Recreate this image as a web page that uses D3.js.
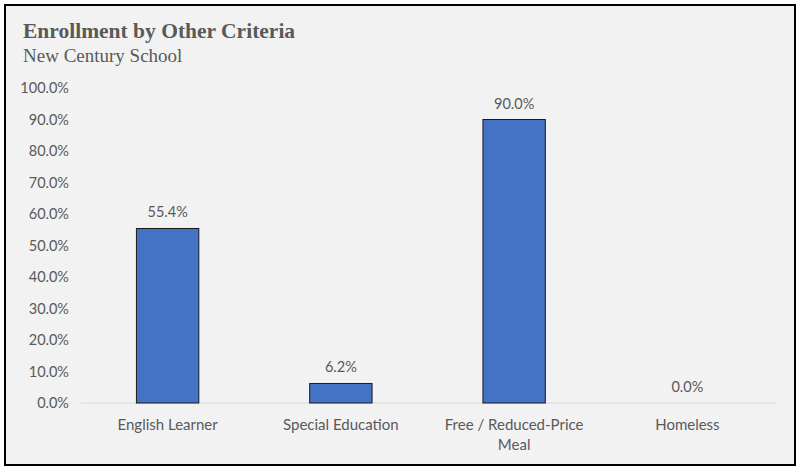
<!DOCTYPE html>
<html>
<head>
<meta charset="utf-8">
<script src="https://cdn.jsdelivr.net/npm/d3@7"></script>
<style>
  html, body { margin: 0; padding: 0; background: #fff; }
  svg { display: block; }
</style>
</head>
<body>
<svg id="chart" width="800" height="468"></svg>
<script>
const categories = ["English Learner", "Special Education", "Free / Reduced-Price Meal", "Homeless"];
const categoryLines = [["English Learner"], ["Special Education"], ["Free / Reduced-Price", "Meal"], ["Homeless"]];
const values = [55.4, 6.2, 90.0, 0.0];
const yTicks = [0, 10, 20, 30, 40, 50, 60, 70, 80, 90, 100];

const svg = d3.select("#chart");

// frame
svg.append("rect").attr("x", 5).attr("y", 5).attr("width", 790).attr("height", 460)
  .attr("fill", "#f2f2f2").attr("stroke", "#000").attr("stroke-width", 2);

// titles
svg.append("text").attr("x", 23).attr("y", 38)
  .attr("font-family", "Liberation Serif, serif").attr("font-weight", "bold")
  .attr("font-size", 21.5).attr("fill", "#595959").text("Enrollment by Other Criteria");
svg.append("text").attr("x", 23).attr("y", 62)
  .attr("font-family", "Liberation Serif, serif")
  .attr("font-size", 19).attr("fill", "#595959").text("New Century School");

const plot = { left: 81, right: 774, top: 88, bottom: 403, axisEnd: 777 };
const x = d3.scaleBand().domain(categories).range([plot.left, plot.right]).paddingInner(0.64).paddingOuter(0.32);
const y = d3.scaleLinear().domain([0, 100]).range([plot.bottom, plot.top]);

const font = "Lato, 'Open Sans', sans-serif";

// y axis labels
const yAxis = d3.axisLeft(y).tickValues(yTicks).tickSize(0).tickPadding(0)
  .tickFormat(d => d.toFixed(1) + "%");
const ya = svg.append("g").attr("transform", `translate(69,0)`).call(yAxis);
ya.select(".domain").remove();
ya.selectAll("text").attr("font-family", font).attr("font-size", 14.5).attr("fill", "#595959");

// baseline
svg.append("line").attr("x1", plot.left).attr("x2", plot.axisEnd).attr("y1", y(0)).attr("y2", y(0))
  .attr("stroke", "#d9d9d9").attr("stroke-width", 1);

// bars
svg.append("g").selectAll("rect").data(values).join("rect")
  .attr("x", (d, i) => x(categories[i]))
  .attr("y", d => y(d))
  .attr("width", x.bandwidth())
  .attr("height", d => y(0) - y(d))
  .attr("fill", "#4472c4")
  .attr("stroke", d => d > 0 ? "#1a1a1a" : "none").attr("stroke-width", 1);

// value labels
svg.append("g").selectAll("text").data(values).join("text")
  .attr("x", (d, i) => x(categories[i]) + x.bandwidth() / 2)
  .attr("y", d => y(d) - 11)
  .attr("text-anchor", "middle")
  .attr("font-family", font).attr("font-size", 14.5).attr("fill", "#595959")
  .text(d => d.toFixed(1) + "%");

// category labels
const cl = svg.append("g").selectAll("text").data(categories).join("text")
  .attr("x", d => x(d) + x.bandwidth() / 2)
  .attr("y", 430)
  .attr("text-anchor", "middle")
  .attr("font-family", font).attr("font-size", 15).attr("fill", "#595959");
cl.each(function(d, i) {
  d3.select(this).selectAll("tspan").data(categoryLines[i]).join("tspan")
    .attr("x", x(d) + x.bandwidth() / 2)
    .attr("dy", (t, j) => j === 0 ? 0 : 20)
    .text(t => t);
});
</script>
</body>
</html>
